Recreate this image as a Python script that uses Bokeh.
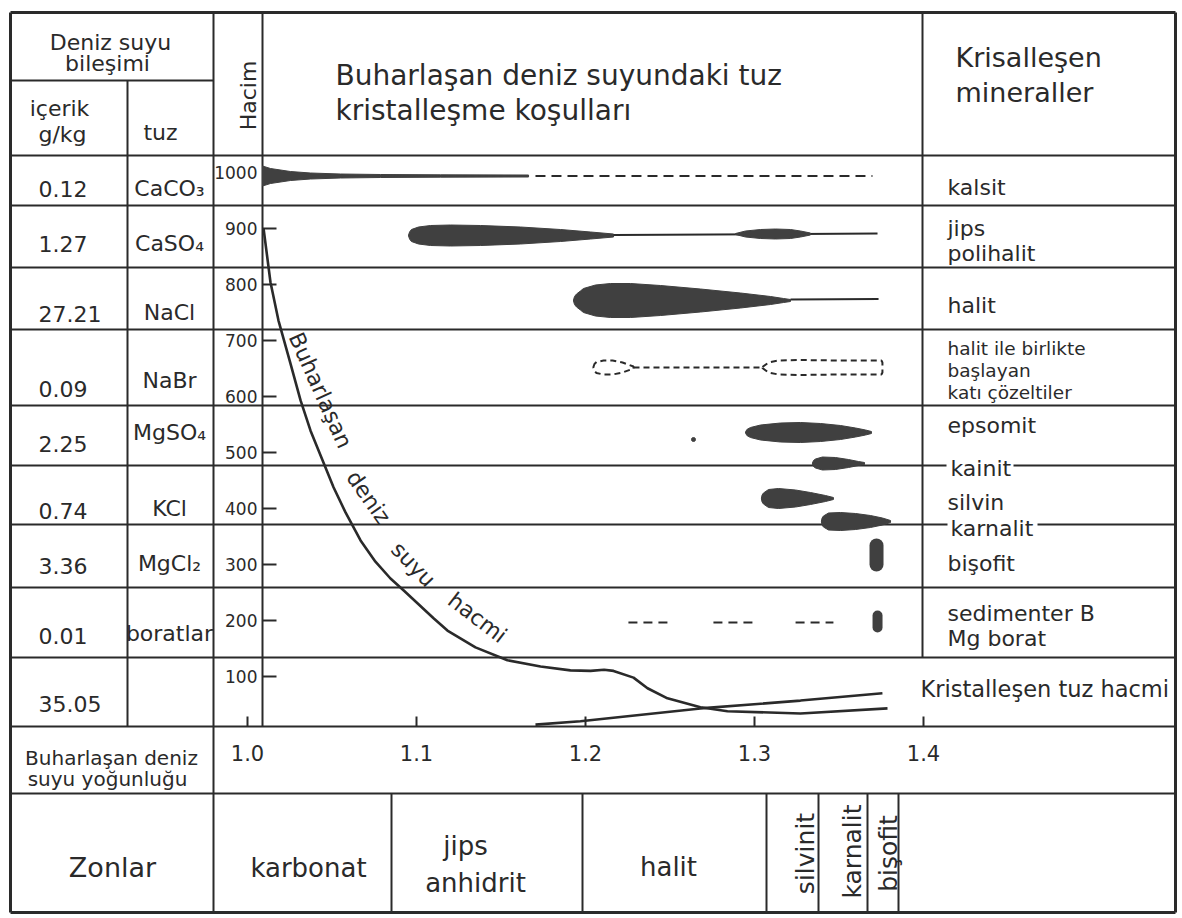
import numpy as np
from bokeh.plotting import figure
from bokeh.models import Range1d
from bokeh.core.properties import value
from bokeh.embed import file_html
from bokeh.resources import INLINE

# ======================= DATA =======================
content_gkg = ["0.12", "1.27", "27.21", "0.09", "2.25", "0.74", "3.36", "0.01", "35.05"]
salt_names = ["CaCO₃", "CaSO₄", "NaCl", "NaBr", "MgSO₄", "KCl", "MgCl₂", "boratlar"]
volume_tick_values = [900, 800, 700, 600, 500, 400, 300, 200, 100]
volume_label_values = [1000, 900, 800, 700, 600, 500, 400, 300, 200, 100]
density_ticks = [1.0, 1.1, 1.2, 1.3, 1.4]
density_labels = ["1.0", "1.1", "1.2", "1.3", "1.4"]

# evaporating sea-water volume vs density
seawater_density = [1.0095, 1.0136, 1.0183, 1.0254, 1.0314, 1.0373, 1.0444, 1.0509, 1.0580,
                    1.0669, 1.0757, 1.0846, 1.0923, 1.1101, 1.1183, 1.1349, 1.1538, 1.1734,
                    1.1911, 1.2030, 1.2110, 1.2166, 1.2284, 1.2367, 1.2485, 1.2680, 1.2840,
                    1.3272, 1.3787]
seawater_volume = [900, 804, 736, 659, 593, 539, 486, 438, 393,
                   343, 305, 275, 254, 204, 182, 152, 129, 118,
                   111, 110, 112, 110, 98, 79, 61, 45, 38, 34, 43]
# crystallised salt volume vs density
salt_density = [1.1704, 1.1970, 1.2680, 1.3272, 1.3757]
salt_volume = [14, 20, 43, 57, 70]

# crystallisation intensity profiles (density, relative half-thickness)
calcite_density = [1.0089, 1.0136, 1.0254, 1.0373, 1.0550, 1.0787, 1.1142, 1.1663]
calcite_half = [10, 7.5, 4.5, 3, 2, 1.5, 1.2, 1]
calcite_traces = [1.1704, 1.3698]

gypsum_density = [1.0953, 1.0959, 1.0970, 1.1012, 1.1083, 1.1201, 1.1379, 1.1615, 1.1852, 1.2030, 1.2166]
gypsum_half = [0.5, 3.5, 6, 8.5, 10, 10.5, 10, 8.5, 6, 3.5, 1.5]
gypsum_tail = [1.2166, 1.3728]
polyhalite_density = [1.2888, 1.2947, 1.3036, 1.3124, 1.3213, 1.3272, 1.3331]
polyhalite_half = [0.5, 3, 4.5, 5, 4.5, 3, 1]

halite_density = [1.1929, 1.1935, 1.1947, 1.1970, 1.1988, 1.2059, 1.2148, 1.2266, 1.2444,
                  1.2680, 1.2917, 1.3095, 1.3172, 1.3213]
halite_half = [0.5, 4, 6.5, 9.5, 12, 15.5, 17, 17, 15, 11.5, 7.5, 4, 2, 1]
halite_tail = [1.3213, 1.3734]

nabr_a_density = [1.2047, 1.2053, 1.2065, 1.2107, 1.2160, 1.2219, 1.2284]
nabr_a_half = [0.5, 3.5, 5.5, 7, 7, 5, 1]
nabr_link = [1.2284, 1.3047]
nabr_b_density = [1.3047, 1.3083, 1.3142, 1.3272, 1.3509, 1.3686, 1.3751, 1.3757]
nabr_b_half = [0.5, 5, 7, 7.5, 7, 7, 7, 5]

epsomite_density = [1.2947, 1.2955, 1.2976, 1.3036, 1.3154, 1.3272, 1.3391, 1.3509, 1.3598, 1.3657, 1.3692]
epsomite_half = [0.5, 3, 5, 7.5, 9.5, 10, 9, 7, 4.5, 2.5, 1]
epsomite_speck = [1.2639]

kainite_density = [1.3343, 1.3349, 1.3361, 1.3402, 1.3479, 1.3556, 1.3615, 1.3651]
kainite_half = [0.5, 3, 4.5, 6.5, 6, 4, 2, 1]

sylvite_density = [1.3041, 1.3045, 1.3053, 1.3083, 1.3142, 1.3243, 1.3331, 1.3420, 1.3467]
sylvite_half = [0.5, 3.5, 5.5, 9, 10, 8.5, 6, 3, 1]

carnallite_density = [1.3396, 1.3400, 1.3408, 1.3438, 1.3509, 1.3598, 1.3686, 1.3757, 1.3805]
carnallite_half = [0.5, 3.5, 5.5, 8.5, 9, 8, 6, 3.5, 1]

bischofite_density = [1.3722]
mg_borate_density = [1.3728]
borate_trace_start = [1.2254, 1.2757, 1.3243]
borate_trace_end = [1.2485, 1.2988, 1.3467]

zone_names = ["karbonat", "jips", "anhidrit", "halit"]
zone_names_vertical = ["silvinit", "karnalit", "bişofit"]

# ======================= LAYOUT / STYLE =======================
FONT = value("DejaVu Sans")
INK = "#2a2a2a"
FILL = "#404040"
W, H = 1180, 916
X0, X1 = 0.0, 1180.0          # sheet pixel space shown on the canvas
Y_TOP, Y_BOT = 0.0, 916.0
DENS_ORIGIN_X, PX_PER_DENS = 247.0, 1690.0   # density 1.0 position and scale
VOL_ZERO_Y, PX_PER_VOL = 732.0, 0.56         # volume 0 position and scale

LEFT, RIGHT, TOP, BOTTOM = 10, 1175, 12, 912
COL_TUZ, COL_HACIM, COL_AXIS, COL_MIN = 127, 213, 262, 922
ROW_LINES = [155, 205, 267, 329, 405, 465, 524, 587, 657, 726]
AXIS_Y, DENS_ROW_BOTTOM = 726, 793
ZONE_COLS = [391, 582, 766, 818, 867, 898]

p = figure(width=W, height=H, x_range=Range1d(X0, X1), y_range=Range1d(Y_BOT, Y_TOP),
           output_backend="svg", toolbar_location=None,
           x_axis_location=None, y_axis_location=None, min_border=0,
           outline_line_color=None, background_fill_color="white", border_fill_color="white")
p.xgrid.visible = False
p.ygrid.visible = False
p.extra_x_ranges = {"dens": Range1d(1.0 + (X0 - DENS_ORIGIN_X) / PX_PER_DENS,
                                    1.0 + (X1 - DENS_ORIGIN_X) / PX_PER_DENS)}
p.extra_y_ranges = {"vol": Range1d((VOL_ZERO_Y - Y_BOT) / PX_PER_VOL,
                                   (VOL_ZERO_Y - Y_TOP) / PX_PER_VOL)}


def txt(x, y, s, size, align="left", baseline="alphabetic", angle=0.0, xr="default", yr="default"):
    p.text(x=[x], y=[y], text=[s], text_font=FONT, text_font_size=f"{size}px",
           text_align=align, text_baseline=baseline, angle=angle, text_color=INK,
           x_range_name=xr, y_range_name=yr)


# ---------- table grid ----------
h_segments = [(LEFT, COL_HACIM, 80)]
for y in ROW_LINES:
    if y == 465:
        h_segments += [(LEFT, 946, y), (1013, RIGHT, y)]
    elif y == 524:
        h_segments += [(LEFT, 947, y), (1037, RIGHT, y)]
    else:
        h_segments.append((LEFT, RIGHT, y))
h_segments.append((LEFT, RIGHT, DENS_ROW_BOTTOM))
p.segment(x0=[s[0] for s in h_segments], x1=[s[1] for s in h_segments],
          y0=[s[2] for s in h_segments], y1=[s[2] for s in h_segments],
          line_color=INK, line_width=2)

v_segments = [(COL_TUZ, 80, AXIS_Y), (COL_HACIM, TOP, BOTTOM), (COL_AXIS, TOP, AXIS_Y),
              (COL_MIN, TOP, 657)] + [(x, DENS_ROW_BOTTOM, BOTTOM) for x in ZONE_COLS]
p.segment(x0=[s[0] for s in v_segments], x1=[s[0] for s in v_segments],
          y0=[s[1] for s in v_segments], y1=[s[2] for s in v_segments],
          line_color=INK, line_width=2)

# outer border
p.segment(x0=[LEFT, LEFT, LEFT, RIGHT], x1=[RIGHT, RIGHT, LEFT, RIGHT],
          y0=[TOP, BOTTOM, TOP, TOP], y1=[TOP, BOTTOM, BOTTOM, BOTTOM],
          line_color=INK, line_width=3)

# ---------- header ----------
txt(110, 42, "Deniz suyu", 22, "center")
txt(107, 63, "bileşimi", 22, "center")
txt(59, 108, "içerik", 22, "center")
txt(62, 134, "g/kg", 22, "center")
txt(160, 132, "tuz", 22, "center")
txt(248, 95, "Hacim", 22, "center", angle=np.pi / 2)
txt(335, 75, "Buharlaşan deniz suyundaki tuz", 28)
txt(335, 110, "kristalleşme koşulları", 28)
txt(955, 57, "Krisalleşen", 27)
txt(955, 92, "mineraller", 27)

# ---------- composition columns ----------
value_baselines = [188, 243, 313, 388, 443, 510, 565, 635, 703]
salt_baselines = [188, 243, 312, 380, 432, 508, 563, 633]
p.text(x=[38] * len(content_gkg), y=value_baselines, text=content_gkg, text_font=FONT,
       text_font_size="22px", text_align="left", text_baseline="alphabetic", text_color=INK)
p.text(x=[169] * len(salt_names), y=salt_baselines, text=salt_names, text_font=FONT,
       text_font_size="22px", text_align="center", text_baseline="alphabetic", text_color=INK)

# ---------- volume axis ----------
p.segment(x0=[COL_AXIS] * len(volume_tick_values), x1=[276] * len(volume_tick_values),
          y0=volume_tick_values, y1=volume_tick_values, y_range_name="vol",
          line_color=INK, line_width=2)
p.text(x=[257] * len(volume_label_values), y=volume_label_values,
       text=[str(v) for v in volume_label_values], y_range_name="vol", text_font=FONT,
       text_font_size="17px", text_align="right", text_baseline="middle", text_color=INK)

# ---------- density axis ----------
p.segment(x0=density_ticks, x1=density_ticks, y0=[AXIS_Y] * 5, y1=[AXIS_Y - 10] * 5,
          x_range_name="dens", line_color=INK, line_width=2)
p.text(x=density_ticks, y=[752] * 5, text=density_labels, x_range_name="dens", text_font=FONT,
       text_font_size="21px", text_align="center", text_baseline="alphabetic", text_color=INK)
txt(111, 757, "Buharlaşan deniz", 20, "center")
txt(107, 778, "suyu yoğunluğu", 20, "center")


# ---------- crystallisation spindles ----------
def spindle(dens, half, cy, filled=True):
    xs = list(dens) + list(dens)[::-1]
    ys = [cy - h for h in half] + [cy + h for h in half][::-1]
    if filled:
        p.patch(xs, ys, x_range_name="dens", fill_color=FILL, line_color=FILL, line_width=1)
    else:
        p.patch(xs, ys, x_range_name="dens", fill_color=None, line_color=INK,
                line_width=2, line_dash="6 4")


# kalsit
spindle(calcite_density, calcite_half, 175.5)
p.line(calcite_traces, [175.5, 175.5], x_range_name="dens", line_color=INK, line_width=2, line_dash="10 6")
# jips / polihalit
spindle(gypsum_density, gypsum_half, 235)
p.line(gypsum_tail, [234.5, 233], x_range_name="dens", line_color=INK, line_width=2)
spindle(polyhalite_density, polyhalite_half, 233.5)
# halit
spindle(halite_density, halite_half, 300)
p.line(halite_tail, [299, 298.5], x_range_name="dens", line_color=INK, line_width=2)
# NaBr solid solutions (dashed outline)
spindle(nabr_a_density, nabr_a_half, 367, filled=False)
p.line(nabr_link, [367, 367], x_range_name="dens", line_color=INK, line_width=2, line_dash="6 4")
spindle(nabr_b_density, nabr_b_half, 367, filled=False)
# epsomit
spindle(epsomite_density, epsomite_half, 432)
p.scatter(epsomite_speck, [439], x_range_name="dens", size=4, color=FILL, marker="circle")
# kainit
spindle(kainite_density, kainite_half, 463)
# silvin
spindle(sylvite_density, sylvite_half, 498)
# karnalit
spindle(carnallite_density, carnallite_half, 521)
# bişofit and Mg borat (pills)
p.segment(x0=bischofite_density, x1=bischofite_density, y0=[545], y1=[564], x_range_name="dens",
          line_color=FILL, line_width=14, line_cap="round")
p.segment(x0=mg_borate_density, x1=mg_borate_density, y0=[615], y1=[627], x_range_name="dens",
          line_color=FILL, line_width=10, line_cap="round")
p.segment(x0=borate_trace_start, x1=borate_trace_end, y0=[622] * 3, y1=[622] * 3,
          x_range_name="dens", line_color=INK, line_width=2, line_dash="9 6")

# ---------- volume curves ----------
p.line(seawater_density, seawater_volume, x_range_name="dens", y_range_name="vol",
       line_color=INK, line_width=2.6, line_join="round")
p.line(salt_density, salt_volume, x_range_name="dens", y_range_name="vol",
       line_color=INK, line_width=2.6)

curve_words = ["Buharlaşan", "deniz", "suyu", "hacmi"]
curve_word_d = [1.0432, 1.0716, 1.0982, 1.1361]
curve_word_v = [611, 420, 300, 205]
curve_word_angle = [-65.8, -55.0, -46.0, -37.6]
p.text(x=curve_word_d, y=curve_word_v, text=curve_words, angle=[np.radians(a) for a in curve_word_angle],
       x_range_name="dens", y_range_name="vol", text_font=FONT, text_font_size="22px",
       text_align="center", text_baseline="middle", text_color=INK)

# ---------- mineral labels ----------
txt(947, 187, "kalsit", 22)
txt(947, 228, "jips", 22)
txt(947, 253, "polihalit", 22)
txt(947, 305, "halit", 22)
txt(947, 348, "halit ile birlikte", 18.5)
txt(947, 370, "başlayan", 18.5)
txt(947, 392, "katı çözeltiler", 18.5)
txt(947, 425, "epsomit", 22)
txt(950, 468, "kainit", 22)
txt(947, 502, "silvin", 22)
txt(950, 528, "karnalit", 22)
txt(947, 563, "bişofit", 22)
txt(947, 613, "sedimenter B", 22)
txt(947, 638, "Mg borat", 22)
txt(920, 688, "Kristalleşen tuz hacmi", 22.5)

# ---------- zones ----------
txt(112, 867, "Zonlar", 27, "center")
txt(308, 867, zone_names[0], 26, "center")
txt(465, 845, zone_names[1], 26, "center")
txt(475, 882, zone_names[2], 26, "center")
txt(668, 866, zone_names[3], 26, "center")
txt(805, 853, zone_names_vertical[0], 25, "center", angle=np.pi / 2)
txt(852, 851, zone_names_vertical[1], 25, "center", angle=np.pi / 2)
txt(888, 853, zone_names_vertical[2], 25, "center", angle=np.pi / 2)

open("out.html", "w").write(file_html(p, INLINE))
